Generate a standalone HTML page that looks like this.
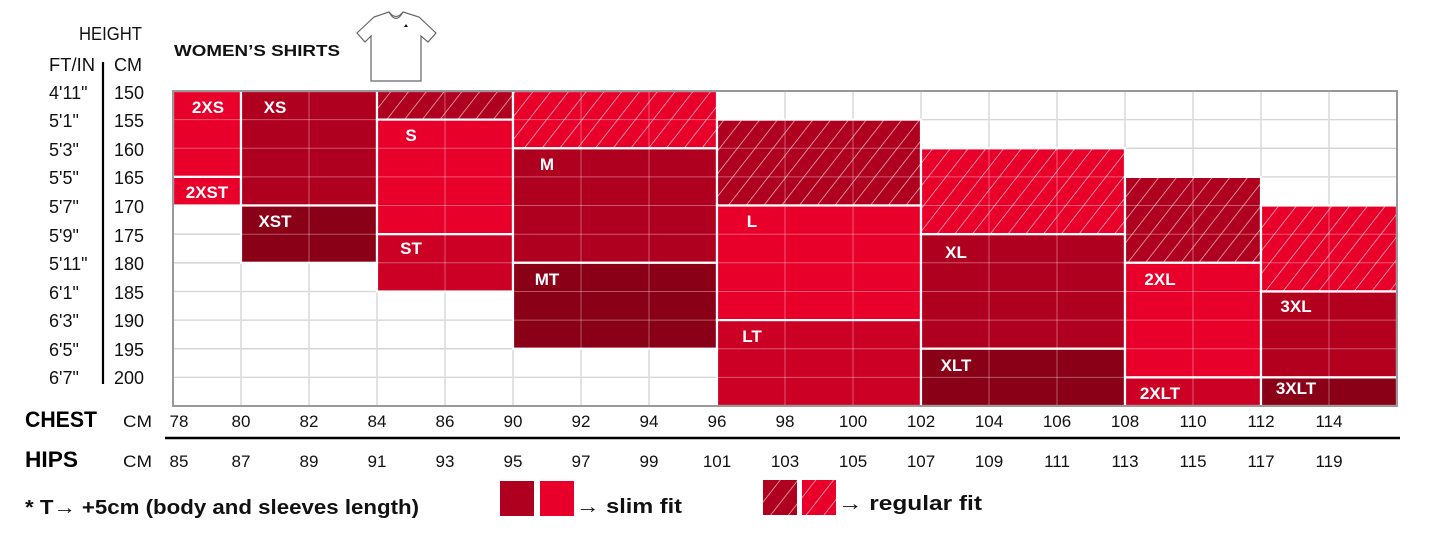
<!DOCTYPE html>
<html><head><meta charset="utf-8"><style>
html,body{margin:0;padding:0;background:#fff;width:1445px;height:542px;overflow:hidden}
svg{display:block;font-family:"Liberation Sans",Arial,sans-serif}
</style></head><body>
<svg width="1445" height="542" viewBox="0 0 1445 542" xmlns="http://www.w3.org/2000/svg">
<defs>
<pattern id="hd" patternUnits="userSpaceOnUse" width="14" height="14" patternTransform="rotate(38)">
<rect width="14" height="14" fill="#b0001f"/><line x1="0" y1="0" x2="0" y2="14" stroke="#fff" stroke-opacity="0.75" stroke-width="1.4"/></pattern>
<pattern id="hb" patternUnits="userSpaceOnUse" width="14" height="14" patternTransform="rotate(38)">
<rect width="14" height="14" fill="#e8002b"/><line x1="0" y1="0" x2="0" y2="14" stroke="#fff" stroke-opacity="0.75" stroke-width="1.4"/></pattern>
</defs>

<!-- header -->
<text x="79" y="40" font-size="18" fill="#111" textLength="63" lengthAdjust="spacingAndGlyphs">HEIGHT</text>
<text x="49" y="71" font-size="18" fill="#111" textLength="46" lengthAdjust="spacingAndGlyphs">FT/IN</text>
<text x="114" y="71" font-size="18" fill="#111" textLength="28" lengthAdjust="spacingAndGlyphs">CM</text>
<line x1="103" y1="62" x2="103" y2="384" stroke="#000" stroke-width="2.2"/>
<text x="174" y="56" font-size="16" font-weight="bold" fill="#111" textLength="166" lengthAdjust="spacingAndGlyphs">WOMEN’S SHIRTS</text>
<!-- shirt icon -->
<g fill="#fff" stroke="#666" stroke-width="1.2">
<path d="M357 33 L374 17 L389 12 Q396 21 403 12 L419 17 L436 33 L428 42 L421 36 L421 81 L371 81 L371 36 L365 42 Z"/>
<path d="M389 12 Q396 25 403 12" fill="none"/>
<path d="M404 27 l2 -3 l2 3 z" fill="#111" stroke="none"/>
</g>

<!-- row labels -->
<g font-size="18" fill="#111">
<text x="49" y="99">4'11"</text><text x="114" y="99">150</text>
<text x="49" y="127">5'1"</text><text x="114" y="127">155</text>
<text x="49" y="156">5'3"</text><text x="114" y="156">160</text>
<text x="49" y="184">5'5"</text><text x="114" y="184">165</text>
<text x="49" y="213">5'7"</text><text x="114" y="213">170</text>
<text x="49" y="242">5'9"</text><text x="114" y="242">175</text>
<text x="49" y="270">5'11"</text><text x="114" y="270">180</text>
<text x="49" y="299">6'1"</text><text x="114" y="299">185</text>
<text x="49" y="327">6'3"</text><text x="114" y="327">190</text>
<text x="49" y="356">6'5"</text><text x="114" y="356">195</text>
<text x="49" y="384">6'7"</text><text x="114" y="384">200</text>
</g>

<!-- gray grid -->
<g stroke="#c4c4c4" stroke-width="1.3">
<line x1="241" y1="91" x2="241" y2="406"/><line x1="309" y1="91" x2="309" y2="406"/><line x1="377" y1="91" x2="377" y2="406"/><line x1="445" y1="91" x2="445" y2="406"/><line x1="513" y1="91" x2="513" y2="406"/><line x1="581" y1="91" x2="581" y2="406"/><line x1="649" y1="91" x2="649" y2="406"/><line x1="717" y1="91" x2="717" y2="406"/><line x1="785" y1="91" x2="785" y2="406"/><line x1="853" y1="91" x2="853" y2="406"/><line x1="921" y1="91" x2="921" y2="406"/><line x1="989" y1="91" x2="989" y2="406"/><line x1="1057" y1="91" x2="1057" y2="406"/><line x1="1125" y1="91" x2="1125" y2="406"/><line x1="1193" y1="91" x2="1193" y2="406"/><line x1="1261" y1="91" x2="1261" y2="406"/><line x1="1329" y1="91" x2="1329" y2="406"/>
<line x1="173" y1="119.6" x2="1397" y2="119.6"/><line x1="173" y1="148.3" x2="1397" y2="148.3"/><line x1="173" y1="176.9" x2="1397" y2="176.9"/><line x1="173" y1="205.5" x2="1397" y2="205.5"/><line x1="173" y1="234.2" x2="1397" y2="234.2"/><line x1="173" y1="262.8" x2="1397" y2="262.8"/><line x1="173" y1="291.5" x2="1397" y2="291.5"/><line x1="173" y1="320.1" x2="1397" y2="320.1"/><line x1="173" y1="348.7" x2="1397" y2="348.7"/><line x1="173" y1="377.4" x2="1397" y2="377.4"/>
</g>

<!-- blocks -->
<g stroke="#fff" stroke-width="2.2">
<rect x="173" y="91" width="68" height="85.9" fill="#e8002b"/>
<rect x="173" y="176.9" width="68" height="28.6" fill="#e8002b"/>
<rect x="241" y="91" width="136" height="114.5" fill="#b0001f"/>
<rect x="241" y="205.5" width="136" height="57.3" fill="#8a0016"/>
<rect x="377" y="91" width="136" height="28.6" fill="url(#hd)"/>
<rect x="377" y="119.6" width="136" height="114.6" fill="#e8002b"/>
<rect x="377" y="234.2" width="136" height="57.3" fill="#cc0025"/>
<rect x="513" y="91" width="204" height="57.3" fill="url(#hb)"/>
<rect x="513" y="148.3" width="204" height="114.5" fill="#b0001f"/>
<rect x="513" y="262.8" width="204" height="85.9" fill="#8a0016"/>
<rect x="717" y="119.6" width="204" height="85.9" fill="url(#hd)"/>
<rect x="717" y="205.5" width="204" height="114.6" fill="#e8002b"/>
<rect x="717" y="320.1" width="204" height="85.9" fill="#cc0025"/>
<rect x="921" y="148.3" width="204" height="85.9" fill="url(#hb)"/>
<rect x="921" y="234.2" width="204" height="114.5" fill="#b0001f"/>
<rect x="921" y="348.7" width="204" height="57.3" fill="#8a0016"/>
<rect x="1125" y="176.9" width="136" height="85.9" fill="url(#hd)"/>
<rect x="1125" y="262.8" width="136" height="114.6" fill="#e8002b"/>
<rect x="1125" y="377.4" width="136" height="28.6" fill="#cc0025"/>
<rect x="1261" y="205.5" width="136" height="85.9" fill="url(#hb)"/>
<rect x="1261" y="291.5" width="136" height="85.9" fill="#b3001e"/>
<rect x="1261" y="377.4" width="136" height="28.6" fill="#8a0016"/>
</g>

<!-- faint white grid over colored blocks -->
<g stroke="#fff" stroke-opacity="0.35" stroke-width="1">
<line x1="241" y1="91" x2="241" y2="406"/><line x1="309" y1="91" x2="309" y2="406"/><line x1="377" y1="91" x2="377" y2="406"/><line x1="445" y1="91" x2="445" y2="406"/><line x1="513" y1="91" x2="513" y2="406"/><line x1="581" y1="91" x2="581" y2="406"/><line x1="649" y1="91" x2="649" y2="406"/><line x1="717" y1="91" x2="717" y2="406"/><line x1="785" y1="91" x2="785" y2="406"/><line x1="853" y1="91" x2="853" y2="406"/><line x1="921" y1="91" x2="921" y2="406"/><line x1="989" y1="91" x2="989" y2="406"/><line x1="1057" y1="91" x2="1057" y2="406"/><line x1="1125" y1="91" x2="1125" y2="406"/><line x1="1193" y1="91" x2="1193" y2="406"/><line x1="1261" y1="91" x2="1261" y2="406"/><line x1="1329" y1="91" x2="1329" y2="406"/>
<line x1="173" y1="119.6" x2="1397" y2="119.6"/><line x1="173" y1="148.3" x2="1397" y2="148.3"/><line x1="173" y1="176.9" x2="1397" y2="176.9"/><line x1="173" y1="205.5" x2="1397" y2="205.5"/><line x1="173" y1="234.2" x2="1397" y2="234.2"/><line x1="173" y1="262.8" x2="1397" y2="262.8"/><line x1="173" y1="291.5" x2="1397" y2="291.5"/><line x1="173" y1="320.1" x2="1397" y2="320.1"/><line x1="173" y1="348.7" x2="1397" y2="348.7"/><line x1="173" y1="377.4" x2="1397" y2="377.4"/>
</g>
<rect x="173" y="91" width="1224" height="315" fill="none" stroke="#999" stroke-width="2"/>

<!-- size labels -->
<g font-size="17" font-weight="bold" fill="#fff" text-anchor="middle">
<text x="208" y="113">2XS</text>
<text x="207" y="198">2XST</text>
<text x="275" y="113">XS</text>
<text x="275" y="227">XST</text>
<text x="411" y="141">S</text>
<text x="411" y="254">ST</text>
<text x="547" y="170">M</text>
<text x="547" y="285">MT</text>
<text x="752" y="227">L</text>
<text x="752" y="342">LT</text>
<text x="956" y="258">XL</text>
<text x="956" y="371">XLT</text>
<text x="1160" y="285">2XL</text>
<text x="1160" y="399">2XLT</text>
<text x="1296" y="312">3XL</text>
<text x="1296" y="394">3XLT</text>
</g>

<!-- chest/hips -->
<text x="25" y="427" font-size="22" font-weight="bold" fill="#000" textLength="72" lengthAdjust="spacingAndGlyphs">CHEST</text>
<text x="123" y="427" font-size="17" fill="#111" textLength="29" lengthAdjust="spacingAndGlyphs">CM</text>
<line x1="165" y1="438" x2="1400" y2="438" stroke="#000" stroke-width="2.5"/>
<text x="25" y="467" font-size="22" font-weight="bold" fill="#000" textLength="53" lengthAdjust="spacingAndGlyphs">HIPS</text>
<text x="123" y="467" font-size="17" fill="#111" textLength="29" lengthAdjust="spacingAndGlyphs">CM</text>
<g font-size="17" fill="#111" text-anchor="middle">
<text x="179" y="427">78</text><text x="241" y="427">80</text><text x="309" y="427">82</text><text x="377" y="427">84</text><text x="445" y="427">86</text><text x="513" y="427">90</text><text x="581" y="427">92</text><text x="649" y="427">94</text><text x="717" y="427">96</text><text x="785" y="427">98</text><text x="853" y="427">100</text><text x="921" y="427">102</text><text x="989" y="427">104</text><text x="1057" y="427">106</text><text x="1125" y="427">108</text><text x="1193" y="427">110</text><text x="1261" y="427">112</text><text x="1329" y="427">114</text>
<text x="179" y="467">85</text><text x="241" y="467">87</text><text x="309" y="467">89</text><text x="377" y="467">91</text><text x="445" y="467">93</text><text x="513" y="467">95</text><text x="581" y="467">97</text><text x="649" y="467">99</text><text x="717" y="467">101</text><text x="785" y="467">103</text><text x="853" y="467">105</text><text x="921" y="467">107</text><text x="989" y="467">109</text><text x="1057" y="467">111</text><text x="1125" y="467">113</text><text x="1193" y="467">115</text><text x="1261" y="467">117</text><text x="1329" y="467">119</text>
</g>

<!-- legend -->
<text x="25" y="514" font-size="20" font-weight="bold" fill="#111" textLength="394" lengthAdjust="spacingAndGlyphs">* T→ +5cm (body and sleeves length)</text>
<rect x="500" y="481" width="34" height="35" fill="#b0001f"/>
<rect x="540" y="481" width="34" height="35" fill="#e8002b"/>
<text x="576" y="513" font-size="20" font-weight="bold" fill="#111" textLength="106" lengthAdjust="spacingAndGlyphs">→ slim fit</text>
<rect x="763" y="480" width="34" height="35" fill="url(#hd)"/>
<rect x="802" y="480" width="34" height="35" fill="url(#hb)"/>
<text x="838" y="510" font-size="20" font-weight="bold" fill="#111" textLength="144" lengthAdjust="spacingAndGlyphs">→  regular fit</text>
</svg>
</body></html>
